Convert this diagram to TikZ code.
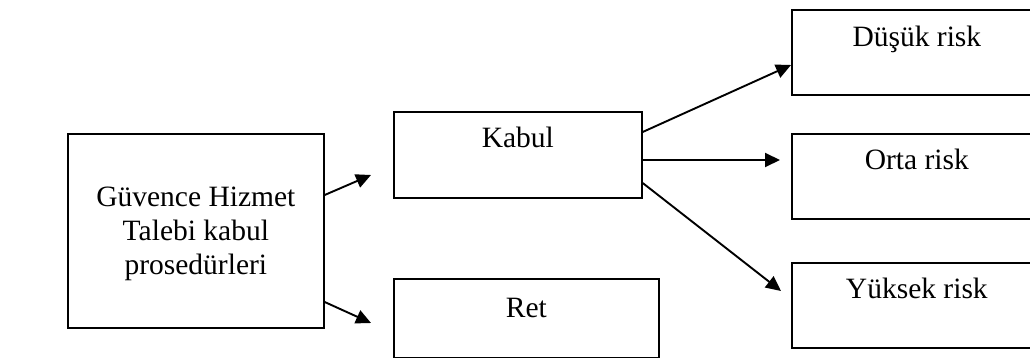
\documentclass[tikz,border=0pt]{standalone}
\usepackage{fontspec}
\setmainfont{Liberation Serif}
\usetikzlibrary{arrows.meta}
\begin{document}
\begin{tikzpicture}[x=1pt,y=-1pt,
  box/.style={draw,line width=1.7pt,inner sep=0pt,anchor=north west},
  lbl/.style={font=\fontsize{29.5}{34}\selectfont,inner sep=0pt},
  arr/.style={line width=1.9pt,-{Triangle[length=15pt,width=14pt]}}]
\useasboundingbox (0,0) rectangle (1030,358);
\clip (0,0) rectangle (1030,358);
% boxes
\node[box,minimum width=256pt,minimum height=194pt] (big) at (67,133) {};
\node[box,minimum width=248pt,minimum height=86pt] (kabul) at (393,111) {};
\node[box,minimum width=265pt,minimum height=79pt] (ret) at (393,278) {};
\node[box,minimum width=250pt,minimum height=85pt] (dusuk) at (791,9) {};
\node[box,minimum width=250pt,minimum height=85pt] (orta) at (791,133) {};
\node[box,minimum width=250pt,minimum height=85pt] (yuksek) at (791,262) {};
% labels
\node[lbl,align=center] (bigt) at ([yshift=-3pt]big.center) {Güvence Hizmet\\Talebi kabul\\prosedürleri};
\node[lbl,anchor=base] (kabult) at ([yshift=-37pt]kabul.north) {Kabul};
\node[lbl,anchor=base] (rett) at ([yshift=-39pt]ret.north) {Ret};
\node[lbl,anchor=base] (dusukt) at ([yshift=-38pt]dusuk.north) {Düşük risk};
\node[lbl,anchor=base] (ortat) at ([yshift=-37pt]orta.north) {Orta risk};
\node[lbl,anchor=base] (yuksekt) at ([yshift=-36pt]yuksek.north) {Yüksek risk};
% arrow tips
\coordinate (t1) at (371,175);
\coordinate (t2) at (371,323);
\coordinate (t3) at (791,65);
\coordinate (t4) at (780,160);
\coordinate (t5) at (781,291);
% arrows
\draw[arr] ([yshift=-62pt]big.north east) -- (t1);
\draw[arr] ([yshift=-169pt]big.north east) -- (t2);
\draw[arr] ([yshift=-21pt]kabul.north east) -- (t3);
\draw[arr] ([yshift=-49pt]kabul.north east) -- (t4);
\draw[arr] ([yshift=-72pt]kabul.north east) -- (t5);
\end{tikzpicture}
\end{document}
